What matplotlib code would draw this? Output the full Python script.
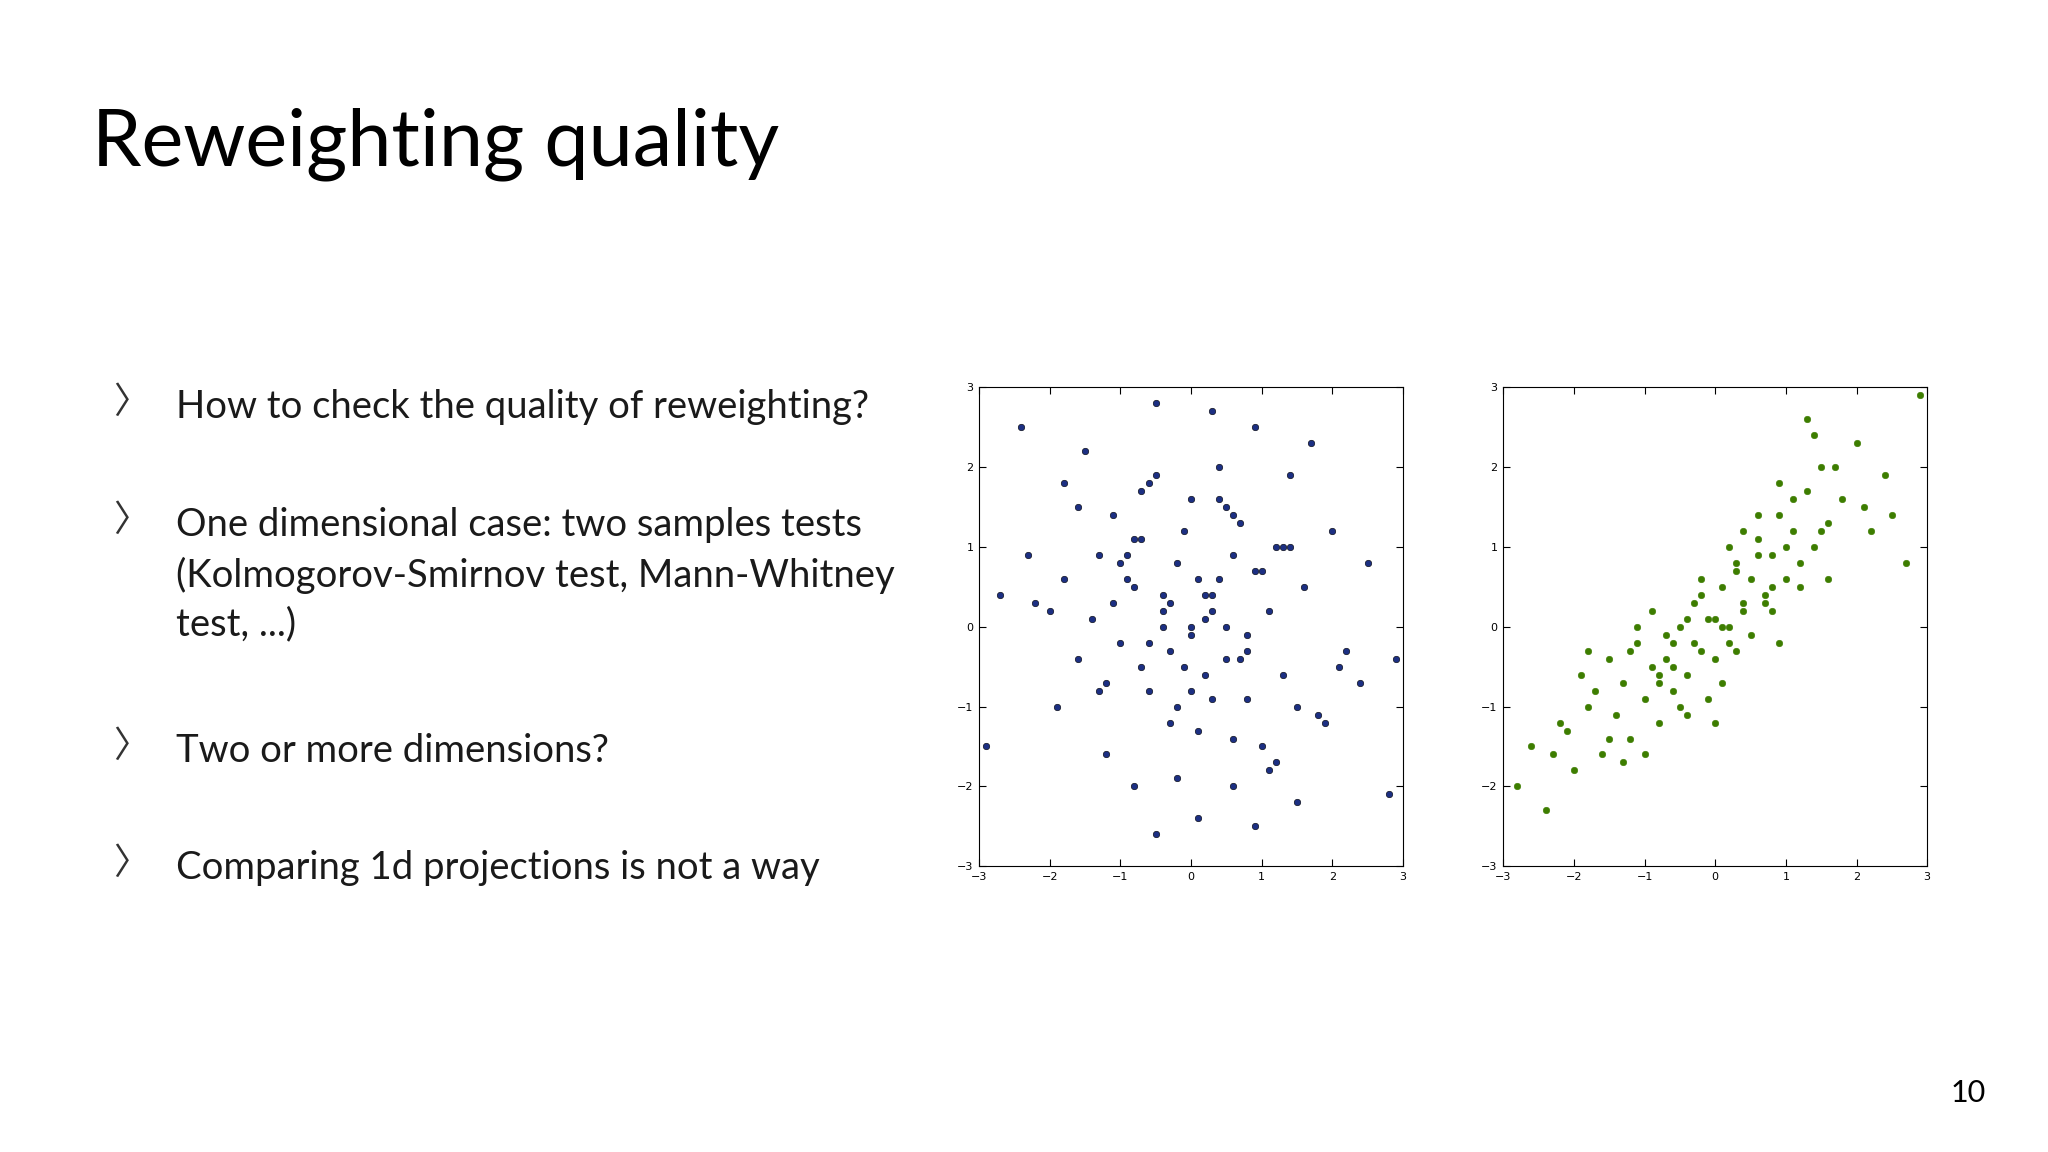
import matplotlib.pyplot as plt

# hand-read approximations of the two point clouds
blue_x = [-2.4, -2.2, -1.9, -1.8, -1.6, -1.5, -1.3, -1.2, -1.1, -1.0, -0.9, -0.8, -0.7, -0.6, -0.5,
          -0.4, -0.3, -0.2, -0.1, 0.0, 0.1, 0.2, 0.3, 0.4, 0.5, 0.6, 0.7, 0.8, 0.9, 1.0, 1.1, 1.2,
          1.3, 1.4, 1.5, 1.6, 1.8, 2.0, 2.2, 2.5, 2.8, -2.9, -2.7, 2.9, -0.5, 0.3, 0.9, -1.4, 1.7,
          -0.8, 0.0, 0.6, -0.3, 0.2, -0.6, 0.4, -0.1, 0.8, -1.0, 1.1, -0.2, 0.5, -0.7, 0.1, 0.7,
          -1.2, 1.3, -0.4, 0.3, -0.9, 1.0, 0.0, -0.5, 0.6, -1.6, 1.5, -2.0, 2.1, 0.2, -0.3, 0.9,
          -1.1, 1.2, -0.8, 0.4, -0.2, 0.6, -0.6, 0.1, 0.0, -1.3, 1.4, -1.8, 1.9, -2.3, 2.4, 0.5,
          -0.4, 0.8, -0.7, 0.3]
blue_y = [2.5, 0.3, -1.0, 1.8, -0.4, 2.2, 0.9, -1.6, 1.4, -0.2, 0.6, -2.0, 1.1, -0.8, 2.8,
          0.2, -1.2, 0.8, -0.5, 1.6, -2.4, 0.4, -0.9, 2.0, 0.0, -1.4, 1.3, -0.3, 2.5, 0.7, -1.8,
          1.0, -0.6, 1.9, -2.2, 0.5, -1.1, 1.2, -0.3, 0.8, -2.1, -1.5, 0.4, -0.4, -2.6, 2.7, -2.5,
          0.1, 2.3, 0.5, -0.1, 0.9, 0.3, -0.6, -0.2, 0.6, 1.2, -0.9, 0.8, 0.2, -1.0, 1.5, 1.7,
          -1.3, -0.4, -0.7, 1.0, 0.0, 0.4, 0.9, -1.5, -0.8, 1.9, 1.4, 1.5, -1.0, 0.2, -0.5, 0.1,
          -0.3, 0.7, 0.3, -1.7, 1.1, 1.6, -1.9, -2.0, 1.8, 0.6, 0.0, -0.8, 1.0, 0.6, -1.2, 0.9,
          -0.7, -0.4, 0.4, -0.1, -0.5, 0.2]

green_x = [-2.8, -2.6, -2.4, -2.2, -2.0, -1.9, -1.8, -1.6, -1.5, -1.4, -1.3, -1.2, -1.1, -1.0, -0.9,
           -0.8, -0.7, -0.6, -0.5, -0.4, -0.3, -0.2, -0.1, 0.0, 0.1, 0.2, 0.3, 0.4, 0.5, 0.6, 0.7,
           0.8, 0.9, 1.0, 1.1, 1.2, 1.3, 1.4, 1.5, 1.6, 1.8, 2.0, 2.2, 2.4, 2.7, 2.9, -1.7, -1.0,
           -0.6, -0.2, 0.2, 0.6, 1.0, 1.4, -1.2, -0.8, -0.4, 0.0, 0.4, 0.8, 1.2, -0.5, 0.3, 0.9,
           -0.9, 0.1, 0.5, -0.3, 0.7, 1.1, -1.5, 1.6, -2.1, 2.1, -0.1, 0.2, -0.7, 0.6, 1.3, -1.1,
           0.0, 0.4, -0.4, 0.8, -0.2, 1.7, -1.8, 2.5, -2.3, 0.9, -0.6, 0.3, 1.5, -1.3, 0.1, -0.8]
green_y = [-2.0, -1.5, -2.3, -1.2, -1.8, -0.6, -1.0, -1.6, -0.4, -1.1, -0.7, -1.4, -0.2, -0.9, -0.5,
           -1.2, -0.1, -0.8, 0.0, -0.6, 0.3, -0.3, -0.9, 0.1, 0.5, -0.2, 0.8, 0.2, 0.6, 1.1, 0.4,
           0.9, 1.4, 0.6, 1.2, 0.8, 1.7, 1.0, 2.0, 1.3, 1.6, 2.3, 1.2, 1.9, 0.8, 2.9, -0.8, -1.6,
           -0.2, 0.4, 0.0, 1.4, 1.0, 2.4, -0.3, -0.6, 0.1, -0.4, 0.3, 0.2, 0.5, -1.0, 0.7, 1.8,
           0.2, -0.7, -0.1, -0.2, 0.3, 1.6, -1.4, 0.6, -1.3, 1.5, 0.1, 1.0, -0.4, 0.9, 2.6, 0.0,
           -1.2, 1.2, -1.1, 0.5, 0.6, 2.0, -0.3, 1.4, -1.6, -0.2, -0.5, -0.3, 1.2, -1.7, 0.0, -0.7]

ticks = [-3, -2, -1, 0, 1, 2, 3]
bullets = [
    (0.350, "How to check the quality of reweighting?"),
    (0.452, "One dimensional case: two samples tests\n(Kolmogorov-Smirnov test, Mann-Whitney\ntest, ...)"),
    (0.648, "Two or more dimensions?"),
    (0.750, "Comparing 1d projections is not a way"),
]

fig = plt.figure(figsize=(20.48, 11.52), dpi=100)
fig.patch.set_facecolor("white")
fig.text(0.045, 0.875, "Reweighting quality", fontsize=57, family="Lato", va="center")
for y, txt in bullets:
    fig.text(0.055, 1 - y, "\u3009", fontsize=26, va="center", color="#333333",
             family=["Noto Sans CJK SC", "DejaVu Sans"])
    fig.text(0.086, 1 - y + 0.012, txt, fontsize=27.5, va="top", family="Lato",
             linespacing=1.45, color="#1a1a1a")
fig.text(0.961, 1 - 835 / 880, "10", fontsize=22, family="Lato", ha="center", va="center")

panels = [(0.478, blue_x, blue_y, "#1c2f82"), (0.734, green_x, green_y, "#3d7d00")]
for left, xs, ys, col in panels:
    ax = fig.add_axes([left, 0.248, 0.207, 0.416])
    ax.scatter(xs, ys, s=22, c=col, edgecolors="black" if col == "#1c2f82" else col, linewidths=0.4)
    ax.set_xlim(-3, 3)
    ax.set_ylim(-3, 3)
    ax.set_xticks(ticks)
    ax.set_yticks(ticks)
    ax.set_xticklabels(["\u22123", "\u22122", "\u22121", "0", "1", "2", "3"])
    ax.set_yticklabels(["\u22123", "\u22122", "\u22121", "0", "1", "2", "3"])
    ax.tick_params(labelsize=8, direction="in", length=5, top=True, right=True, pad=4)
    for s in ax.spines.values():
        s.set_linewidth(0.8)

fig.savefig("out.png", dpi=100)
